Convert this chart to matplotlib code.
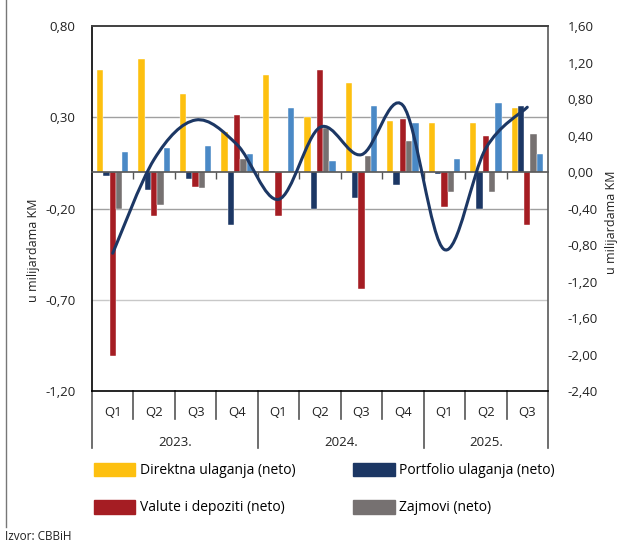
import matplotlib
matplotlib.use("Agg")
import matplotlib.pyplot as plt
from matplotlib.path import Path
from matplotlib.patches import PathPatch, Patch
from matplotlib.lines import Line2D
import matplotlib.transforms as mtransforms

plt.rcParams['font.family'] = ['Open Sans', 'DejaVu Sans']

# podaci (u milijardama KM)
kvartali = ['Q1', 'Q2', 'Q3', 'Q4', 'Q1', 'Q2', 'Q3', 'Q4', 'Q1', 'Q2', 'Q3']
godine = ['2023.', '2024.', '2025.']
kvartala_po_godini = [4, 4, 3]

direktna = [0.56, 0.62, 0.43, 0.22, 0.53, 0.30, 0.49, 0.28, 0.27, 0.27, 0.35]
portfolio = [-0.02, -0.10, -0.04, -0.29, 0.005, -0.20, -0.14, -0.07, -0.01, -0.20, 0.36]
valute = [-1.01, -0.24, -0.08, 0.31, -0.24, 0.56, -0.64, 0.29, -0.19, 0.20, -0.29]
zajmovi = [-0.20, -0.18, -0.09, 0.07, 0.0, 0.24, 0.09, 0.17, -0.11, -0.11, 0.21]
ostalo = [0.11, 0.13, 0.14, 0.10, 0.35, 0.06, 0.36, 0.27, 0.07, 0.38, 0.10]
ukupno = [-0.89, 0.14, 0.57, 0.30, -0.30, 0.49, 0.19, 0.73, -0.85, 0.26, 0.71]

lijeva_os = [0.8, 0.3, -0.2, -0.7, -1.2]
desna_os = [1.6, 1.2, 0.8, 0.4, 0.0, -0.4, -0.8, -1.2, -1.6, -2.0, -2.4]

serije = [direktna, portfolio, valute, zajmovi, ostalo]
nazivi = ['Direktna ulaganja (neto)', 'Portfolio ulaganja (neto)',
          'Valute i depoziti (neto)', 'Zajmovi (neto)', None]
boje = ['#FDC010', '#1C3764', '#A51D23', '#767171', '#4A89C6']

fig = plt.figure(figsize=(6.25, 5.43), dpi=100)
ax = fig.add_axes([0.1472, 0.2799, 0.7296, 0.6722])
ax2 = ax.twinx()

n = len(kvartali)
x = list(range(n))
w = 0.152
trake = []
for i, (s, c) in enumerate(zip(serije, boje)):
    b = ax.bar([xi + (i - 2) * w for xi in x], s, width=w, color=c,
               edgecolor='white', linewidth=0.3, zorder=3)
    trake.append(b)

ax.set_xlim(-0.5, n - 0.5)
ax.set_ylim(-1.2, 0.8)
ax2.set_ylim(-2.4, 1.6)

# mreza
for yv in lijeva_os[1:-1]:
    ax.axhline(yv, color='#C8C8C8' if yv < -0.5 else '#A0A0A0', lw=1.0, zorder=1)

# nulta linija s oznakama izmedju kvartala
ax.spines['bottom'].set_position(('data', 0))
ax.spines['bottom'].set_color('#555555')
ax.spines['bottom'].set_linewidth(1.2)
ax.spines['bottom'].set_zorder(4)
ax.set_xticks([i + 0.5 for i in range(n - 1)])
ax.tick_params(axis='x', length=5, width=1, color='#555555', labelbottom=False)

ax.set_yticks(lijeva_os)
ax.set_yticklabels([f'{v:.2f}'.replace('.', ',') for v in lijeva_os])
ax.tick_params(axis='y', length=0, pad=12, labelsize=9.5, labelcolor='#222222')
ax2.set_yticks(desna_os)
ax2.set_yticklabels([f'{v:.2f}'.replace('.', ',') for v in desna_os])
ax2.tick_params(axis='y', length=0, pad=14, labelsize=9.5, labelcolor='#222222')

ax.spines['left'].set_color('#000000')
ax.spines['top'].set_color('#404040')
ax.spines['right'].set_visible(False)
ax2.spines['right'].set_color('#595959')
ax2.spines['top'].set_color('#404040')
ax2.spines['left'].set_visible(False)
ax2.spines['bottom'].set_color('#000000')
ax2.spines['bottom'].set_linewidth(1.2)
for sp in ['left', 'top']:
    ax.spines[sp].set_linewidth(1.2)
ax2.spines['right'].set_linewidth(1.2)
ax2.spines['top'].set_linewidth(1.2)

# zagladjena linija (Bezier kao u Excelu)
pts = list(zip(x, ukupno))
verts = [pts[0]]
codes = [Path.MOVETO]
for i in range(n - 1):
    p0 = pts[i - 1] if i > 0 else pts[i]
    p1 = pts[i]
    p2 = pts[i + 1]
    p3 = pts[i + 2] if i + 2 < n else pts[i + 1]
    c1 = (p1[0] + (p2[0] - p0[0]) / 6, p1[1] + (p2[1] - p0[1]) / 6)
    c2 = (p2[0] - (p3[0] - p1[0]) / 6, p2[1] - (p3[1] - p1[1]) / 6)
    verts += [c1, c2, p2]
    codes += [Path.CURVE4] * 3
ax2.add_patch(PathPatch(Path(verts, codes), fill=False, edgecolor='#1C3764',
                        lw=2.2, zorder=5, capstyle='round'))
ax.set_zorder(ax2.get_zorder() - 1)
ax2.patch.set_visible(False)

# kategorijska os
tr = mtransforms.blended_transform_factory(ax.transData, ax.transAxes)
for i, q in enumerate(kvartali):
    ax.text(i, -0.058, q, transform=tr, ha='center', va='center',
            fontsize=9.5, color='#222222')
granice = [0]
for k in kvartala_po_godini:
    granice.append(granice[-1] + k)
for i in range(n + 1):
    dno = -0.156 if i in granice else -0.077
    ax.add_line(Line2D([i - 0.5, i - 0.5], [0, dno], transform=tr,
                       color='#555555', lw=1.2, clip_on=False))
for g, a, b in zip(godine, granice[:-1], granice[1:]):
    ax.text((a + b - 1) / 2, -0.142, g, transform=tr, ha='center', va='center',
            fontsize=9.5, color='#222222')

fig.text(0.053, 0.54, 'u milijardama KM', rotation=90, ha='center', va='center',
         fontsize=9, color='#222222')
fig.text(0.979, 0.59, 'u milijardama KM', rotation=90, ha='center', va='center',
         fontsize=9, color='#222222')

# legenda u dva stupca
kw = dict(frameon=False, handlelength=3.0, handleheight=1.15, handletextpad=0.3,
          labelspacing=1.55, fontsize=10, borderpad=0, borderaxespad=0)
l1 = fig.legend([Patch(color=boje[0]), Patch(color=boje[2])],
                [nazivi[0], nazivi[2]], loc='upper left',
                bbox_to_anchor=(0.150, 0.148), **kw)
l2 = fig.legend([Patch(color=boje[1]), Patch(color=boje[3])],
                [nazivi[1], nazivi[3]], loc='upper left',
                bbox_to_anchor=(0.565, 0.148), **kw)

fig.add_artist(Line2D([0.009, 0.009], [0.03, 1.0], transform=fig.transFigure,
                      color='#777777', lw=1.0))
fig.text(0.008, 0.012, 'Izvor: CBBiH', fontsize=8.5, color='#222222',
         ha='left', va='center')

fig.savefig('out.png', dpi=100)
